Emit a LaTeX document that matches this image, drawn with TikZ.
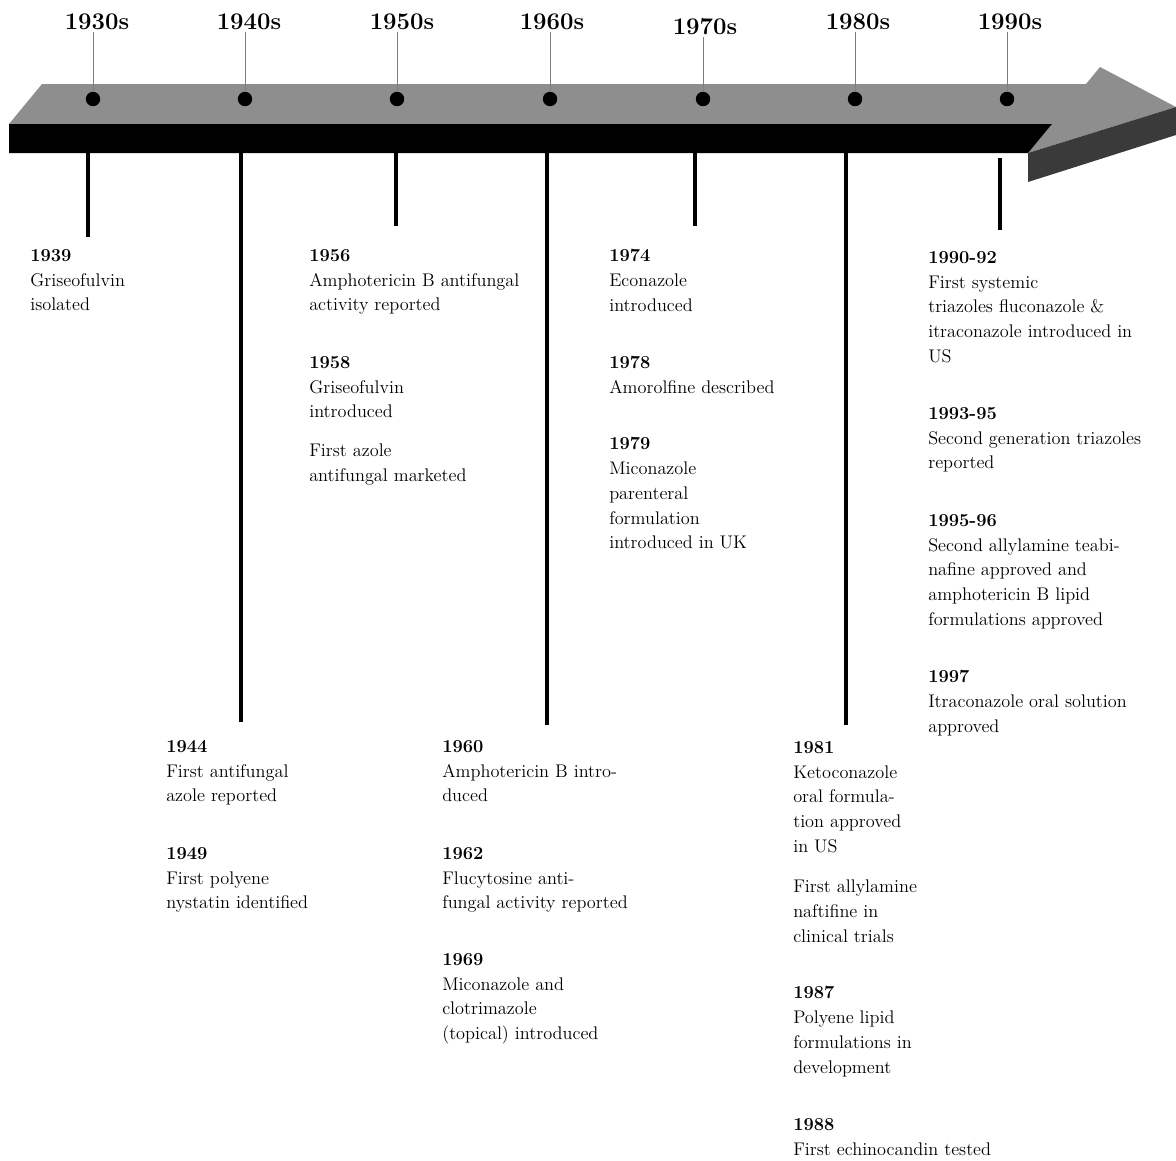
\documentclass[tikz,border=0pt]{standalone}
\usetikzlibrary{positioning,calc}
\definecolor{bartop}{RGB}{142,142,142}
\definecolor{headfront}{RGB}{58,58,58}
\definecolor{guidegrey}{RGB}{125,125,125}
\newcommand{\evyear}[1]{\textbf{#1}}

\begin{document}
\begin{tikzpicture}[x=0.025cm,y=-0.025cm,
    dot/.style={circle,fill=black,inner sep=0pt,minimum size=0.36cm},
    decade/.style={font=\fontsize{17}{20}\selectfont\bfseries,inner sep=1pt},
    entry/.style={anchor=north west,inner sep=0pt,align=left,font=\fontsize{13}{17.64}\selectfont},
    tick/.style={line width=2.9pt},
    guideline/.style={draw=guidegrey,line width=0.6pt}]
\useasboundingbox (0,0) rectangle (1176,1160);
%Bar
    \fill[bartop] (42,84) -- (1086,84) -- (1100,67) -- (1176,107) -- (1028,153) -- (1052,124) -- (9,124) -- cycle;
    \fill[black] (9,124) -- (1052,124) -- (1028,153) -- (9,153) -- cycle;
    \fill[headfront] (1028,153) -- (1176,107) -- (1176,135) -- (1028,182) -- cycle;
%Decades
    \node[dot] (d30) at (93,99) {};
    \node[dot] (d40) at (245,99) {};
    \node[dot] (d50) at (397,99) {};
    \node[dot] (d60) at (550,99) {};
    \node[dot] (d70) at (703,99) {};
    \node[dot] (d80) at (855,99) {};
    \node[dot] (d90) at (1007,99) {};
    \node[decade] (l30) at (97,22) {1930s};
    \node[decade] (l40) at (249,22) {1940s};
    \node[decade] (l50) at (402,22) {1950s};
    \node[decade] (l60) at (552,22) {1960s};
    \node[decade] (l70) at (705,27) {1970s};
    \node[decade] (l80) at (858,22) {1980s};
    \node[decade] (l90) at (1010,22) {1990s};
    \draw[guideline] (d30 |- l30.south) -- (d30);
    \draw[guideline] (d40 |- l40.south) -- (d40);
    \draw[guideline] (d50 |- l50.south) -- (d50);
    \draw[guideline] (d60 |- l60.south) -- (d60);
    \draw[guideline] (d70 |- l70.south) -- (d70);
    \draw[guideline] (d80 |- l80.south) -- (d80);
    \draw[guideline] (d90 |- l90.south) -- (d90);
%Ticks
    \coordinate (b30) at (88,153);   \coordinate (e30) at (88,237);
    \coordinate (b40) at (241,153);  \coordinate (e40) at (241,722);
    \coordinate (b50) at (396,153);  \coordinate (e50) at (396,226);
    \coordinate (b60) at (547,153);  \coordinate (e60) at (547,725);
    \coordinate (b70) at (695,153);  \coordinate (e70) at (695,226);
    \coordinate (b80) at (846,153);  \coordinate (e80) at (846,725);
    \coordinate (b90) at (1000,158); \coordinate (e90) at (1000,230);
    \draw[tick] (b30) -- (e30);
    \draw[tick] (b40) -- (e40);
    \draw[tick] (b50) -- (e50);
    \draw[tick] (b60) -- (e60);
    \draw[tick] (b70) -- (e70);
    \draw[tick] (b80) -- (e80);
    \draw[tick] (b90) -- (e90);
%Events
    \node[entry] (y1939) at (30,249) {\evyear{1939}\\Griseofulvin\\isolated};
    \node[entry] (y1944) at (166,740) {\evyear{1944}\\First antifungal\\azole reported};
    \node[entry] (y1949) at (166,847) {\evyear{1949}\\First polyene\\nystatin identified};
    \node[entry] (y1956) at (309,249) {\evyear{1956}\\Amphotericin B antifungal\\activity reported};
    \node[entry] (y1958) at (309,356) {\evyear{1958}\\Griseofulvin\\introduced};
    \node[entry] (y1958b) at (309,444) {First azole\\antifungal marketed};
    \node[entry] (y1960) at (442,740) {\evyear{1960}\\Amphotericin B intro-\\duced};
    \node[entry] (y1962) at (442,847) {\evyear{1962}\\Flucytosine anti-\\fungal activity reported};
    \node[entry] (y1969) at (442,953) {\evyear{1969}\\Miconazole and\\clotrimazole\\(topical) introduced};
    \node[entry] (y1974) at (609,249) {\evyear{1974}\\Econazole\\introduced};
    \node[entry] (y1978) at (609,356) {\evyear{1978}\\Amorolfine described};
    \node[entry] (y1979) at (609,437) {\evyear{1979}\\Miconazole\\parenteral\\formulation\\introduced in UK};
    \node[entry] (y1981) at (793,741) {\evyear{1981}\\Ketoconazole\\oral formula-\\tion approved\\in US};
    \node[entry] (y1981b) at (793,880) {First allylamine\\naftifine in\\clinical trials};
    \node[entry] (y1987) at (793,986) {\evyear{1987}\\Polyene lipid\\formulations in\\development};
    \node[entry] (y1988) at (793,1118) {\evyear{1988}\\First echinocandin tested};
    \node[entry] (y1990) at (928,251) {\evyear{1990-92}\\First systemic\\triazoles fluconazole \&\\itraconazole introduced in\\US};
    \node[entry] (y1993) at (928,407) {\evyear{1993-95}\\Second generation triazoles\\reported};
    \node[entry] (y1995) at (928,514) {\evyear{1995-96}\\Second allylamine teabi-\\nafine approved and\\amphotericin B lipid\\formulations approved};
    \node[entry] (y1997) at (928,670) {\evyear{1997}\\Itraconazole oral solution\\approved};
\end{tikzpicture}
\end{document}
